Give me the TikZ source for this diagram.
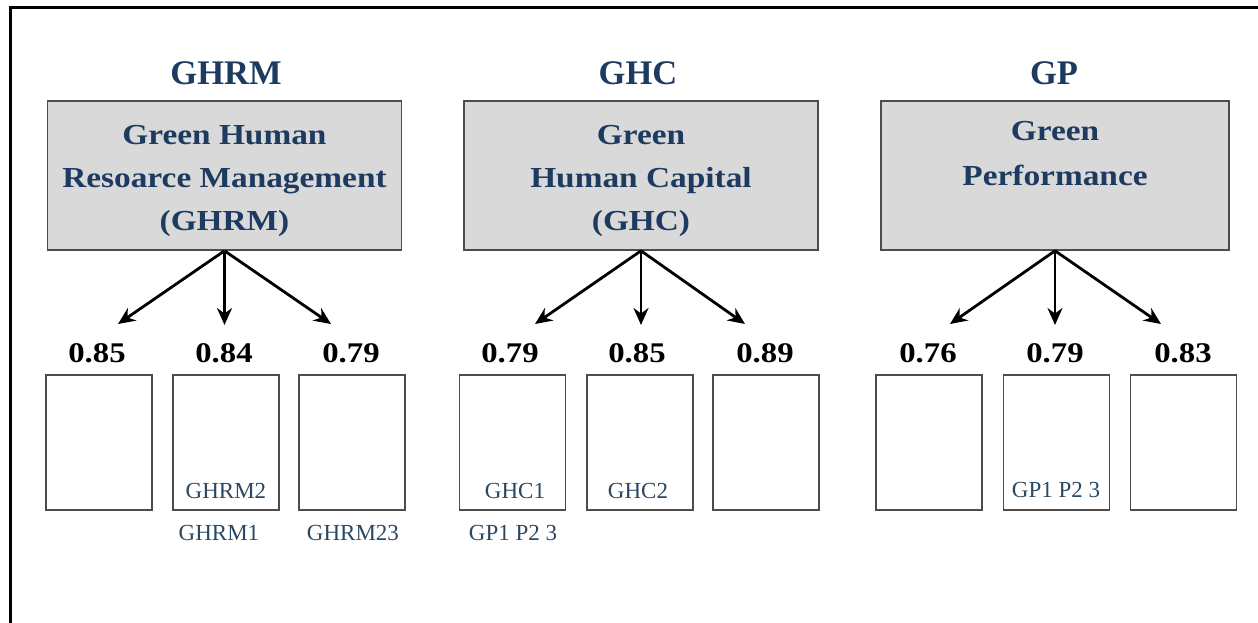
\documentclass[tikz,border=0pt]{standalone}
\usepackage{fontspec}
\setmainfont{Liberation Serif}
\newfontfamily\widefont[FakeStretch=1.15]{Liberation Serif}
\usetikzlibrary{arrows.meta}
\definecolor{navy}{HTML}{1D3A60}
\definecolor{slate}{HTML}{2B4863}
\definecolor{boxgray}{HTML}{D9D9D9}
\tikzset{
  title/.style={text=navy,font=\fontsize{34.5}{40}\selectfont\bfseries},
  construct/.style={draw=black!70,line width=1.6pt,fill=boxgray,minimum width=354pt,minimum height=149pt,
    align=center,text=navy,font=\widefont\fontsize{29}{43}\selectfont\bfseries},
  loading/.style={font=\widefont\fontsize{28.5}{32}\selectfont\bfseries},
  item/.style={draw=black!70,line width=1.5pt,minimum width=106pt,minimum height=135pt},
  itemlabel/.style={text=slate,font=\fontsize{23}{27}\selectfont},
  path/.style={line width=2.8pt,-{Stealth[length=17pt,width=15pt]}}
}
\newcommand{\toppad}[1]{\rule{0pt}{#1}}
\begin{document}
\begin{tikzpicture}[x=1pt,y=-1pt]
	\useasboundingbox (0,0) rectangle (1258,623);
	% Frame
	\draw [line width=3pt] (10,623) -- (10,8) -- (1258,8);
	% Titles
	\node[title] (tghrm) at (226,73) {GHRM};
	\node[title] (tghc) at (638,73) {GHC};
	\node[title] (tgp) at (1054,73) {GP};
	% Constructs
	\node[construct] (ghrm) at (224.5,175.5) {\toppad{30pt}Green Human\\Resoarce Management\\(GHRM)};
	\node[construct] (ghc) at (641,175.5) {\toppad{30pt}Green\\Human Capital\\(GHC)};
	\node[construct,minimum width=348pt] (gp) at (1055,175.5) {\toppad{30pt}Green\\[2pt]Performance\\\strut};
	% Arrow tips
	\coordinate (a1) at (118,324);
	\coordinate (a2) at (224.5,325);
	\coordinate (a3) at (331,324);
	\coordinate (b1) at (535,324);
	\coordinate (b2) at (641,325);
	\coordinate (b3) at (745,324);
	\coordinate (c1) at (950,324);
	\coordinate (c2) at (1055,325);
	\coordinate (c3) at (1161,324);
	\draw [path] (ghrm.south) -- (a1);
	\draw [path] (ghrm.south) -- (a2);
	\draw [path] (ghrm.south) -- (a3);
	\draw [path] (ghc.south) -- (b1);
	\draw [path] (ghc.south) -- (b2);
	\draw [path] (ghc.south) -- (b3);
	\draw [path] (gp.south) -- (c1);
	\draw [path] (gp.south) -- (c2);
	\draw [path] (gp.south) -- (c3);
	% Loadings
	\node[loading] (l1) at (97,353) {0.85};
	\node[loading] (l2) at (224,353) {0.84};
	\node[loading] (l3) at (351,353) {0.79};
	\node[loading] (l4) at (510,353) {0.79};
	\node[loading] (l5) at (637,353) {0.85};
	\node[loading] (l6) at (765,353) {0.89};
	\node[loading] (l7) at (928,353) {0.76};
	\node[loading] (l8) at (1055,353) {0.79};
	\node[loading] (l9) at (1183,353) {0.83};
	% Items
	\node[item] (i1) at (99,442.5) {};
	\node[item] (i2) at (226,442.5) {};
	\node[item] (i3) at (352,442.5) {};
	\node[item] (i4) at (512.5,442.5) {};
	\node[item] (i5) at (640,442.5) {};
	\node[item] (i6) at (766,442.5) {};
	\node[item] (i7) at (929,442.5) {};
	\node[item] (i8) at (1056.5,442.5) {};
	\node[item] (i9) at (1183.5,442.5) {};
	% Labels
	\node[itemlabel] (n1) at (226,491) {GHRM2};
	\node[itemlabel] (n2) at (219,533) {GHRM1};
	\node[itemlabel] (n3) at (353,533) {GHRM23};
	\node[itemlabel] (n4) at (515,491) {GHC1};
	\node[itemlabel] (n5) at (638,491) {GHC2};
	\node[itemlabel] (n6) at (513,533) {GP1 P2 3};
	\node[itemlabel] (n7) at (1056,490) {GP1 P2 3};
\end{tikzpicture}
\end{document}
